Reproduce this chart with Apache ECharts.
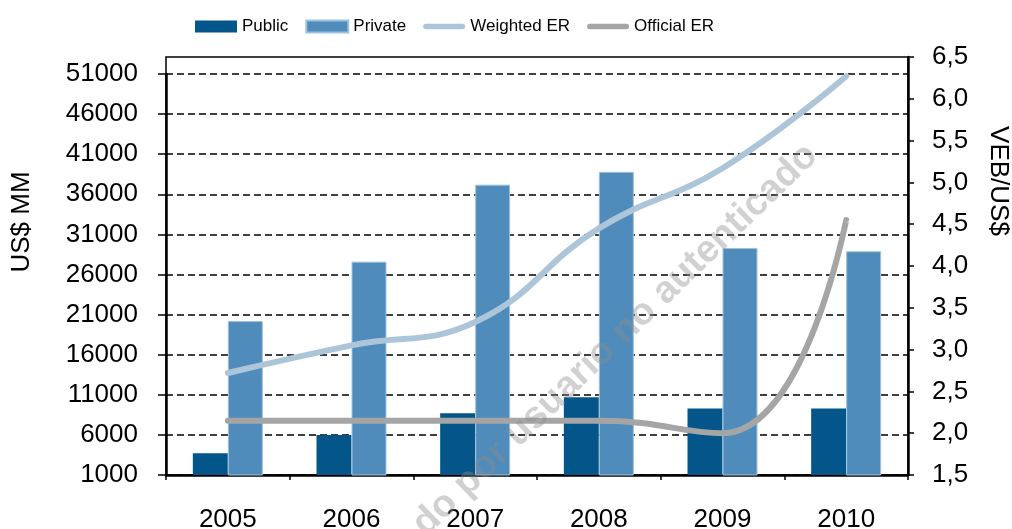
<!DOCTYPE html>
<html>
<head>
<meta charset="utf-8">
<script src="https://cdn.jsdelivr.net/npm/echarts@6/dist/echarts.min.js"></script>
<style>
html,body{margin:0;padding:0;background:#fff;}
#chart{width:1012px;height:529px;}
</style>
</head>
<body>
<div id="chart"></div>
<script>
// ---- data ----
const years = ['2005', '2006', '2007', '2008', '2009', '2010'];
const publicDebt = [3700, 6000, 8700, 10700, 9300, 9300];
const privateDebt = [20200, 27600, 37200, 38800, 29300, 28900];
const weightedER = [2.72, 3.05, 3.33, 4.45, 5.17, 6.27];
const officialER = [2.15, 2.15, 2.15, 2.15, 2.0, 4.55];
const leftTicks = { min: 1000, max: 51000, step: 5000 };
const rightTicks = { min: 1.5, max: 6.5, step: 0.5 };
const seriesNames = ['Public', 'Private', 'Weighted ER', 'Official ER'];
const leftAxisName = 'US$ MM';
const rightAxisName = 'VEB/US$';
const watermark = 'do por usuario no autenticado';

const FONT = "'Liberation Sans', Arial, sans-serif";
const lineIcon = 'path://M3,0 L43,0 A3,3 0 0 1 43,6 L3,6 A3,3 0 0 1 3,0 Z';

const chart = echarts.init(document.getElementById('chart'), null, { renderer: 'canvas' });
chart.setOption({
  animation: false,
  backgroundColor: '#fff',
  textStyle: { fontFamily: FONT, color: '#000' },
  legend: {
    left: 190, top: 13,
    itemWidth: 42, itemHeight: 12, itemGap: 17,
    textStyle: { fontSize: 17, color: '#000', fontFamily: FONT },
    data: [
      { name: seriesNames[0], icon: 'rect' },
      { name: seriesNames[1], icon: 'rect' },
      { name: seriesNames[2], icon: lineIcon },
      { name: seriesNames[3], icon: lineIcon }
    ]
  },
  grid: [
    { left: 166, right: 104, top: 74, bottom: 54, outerBoundsMode: 'none', containLabel: false },
    { left: 166, right: 104, top: 57, bottom: 54, outerBoundsMode: 'none', containLabel: false,
      show: true, borderColor: '#000', borderWidth: 1.5, backgroundColor: 'transparent' }
  ],
  xAxis: [
    {
      gridIndex: 0, type: 'category', data: years,
      axisLine: { lineStyle: { color: '#000', width: 2.5 } },
      axisTick: { show: true, length: 5, lineStyle: { color: '#000', width: 1.5 } },
      axisLabel: { fontSize: 26, color: '#000', margin: 32, fontFamily: FONT }
    },
    { gridIndex: 1, type: 'category', data: years, show: false }
  ],
  yAxis: [
    {
      gridIndex: 0, type: 'value', min: leftTicks.min, max: leftTicks.max, interval: leftTicks.step,
      axisLine: { show: true, lineStyle: { color: '#000', width: 2.5 } },
      axisTick: { show: true, length: 8, lineStyle: { color: '#000', width: 1.5 } },
      axisLabel: { fontSize: 26, color: '#000', margin: 28, fontFamily: FONT,
        formatter: v => String(v) },
      splitLine: { show: true, lineStyle: { color: '#000', width: 1.5, type: [7, 4] } }
    },
    {
      gridIndex: 1, type: 'value', position: 'right', min: rightTicks.min, max: rightTicks.max, interval: rightTicks.step,
      axisLine: { show: true, lineStyle: { color: '#000', width: 2.5 } },
      axisTick: { show: true, length: 6, lineStyle: { color: '#000', width: 1.5 } },
      axisLabel: { fontSize: 26, color: '#000', margin: 24, fontFamily: FONT,
        formatter: v => v.toFixed(1).replace('.', ',') },
      splitLine: { show: false }
    }
  ],
  series: [
    { name: seriesNames[0], type: 'bar', xAxisIndex: 0, yAxisIndex: 0, data: publicDebt,
      barWidth: 35, barGap: '0%', itemStyle: { color: '#03558A' } },
    { name: seriesNames[1], type: 'bar', xAxisIndex: 0, yAxisIndex: 0, data: privateDebt,
      barWidth: 35, barGap: '0%', itemStyle: { color: '#4F8CBB', borderColor: '#9fc2dd', borderWidth: 1 } },
    { name: seriesNames[2], type: 'line', xAxisIndex: 1, yAxisIndex: 1, data: weightedER,
      smooth: 0.45, showSymbol: false, symbol: 'none', color: '#ADC5D8',
      lineStyle: { width: 6, color: '#ADC5D8', cap: 'round', join: 'round' } },
    { name: seriesNames[3], type: 'line', xAxisIndex: 1, yAxisIndex: 1, data: officialER,
      smooth: 0.5, showSymbol: false, symbol: 'none', color: '#A5A5A5',
      lineStyle: { width: 6, color: '#A5A5A5', cap: 'round', join: 'round' } }
  ],
  graphic: [
    { type: 'text', x: 22, y: 222, rotation: Math.PI / 2,
      style: { text: leftAxisName, fontSize: 26, fontFamily: FONT, fill: '#000', align: 'center', verticalAlign: 'middle' } },
    { type: 'text', x: 998, y: 181, rotation: -Math.PI / 2,
      style: { text: rightAxisName, fontSize: 26, fontFamily: FONT, fill: '#000', align: 'center', verticalAlign: 'middle' } },
    { type: 'text', x: 812, y: 150, rotation: 44 * Math.PI / 180, z: 100,
      style: { text: watermark, fontSize: 38, fontWeight: 'bold', fontFamily: FONT, fill: 'rgba(140,140,140,0.4)', align: 'right', verticalAlign: 'middle' } }
  ]
});
</script>
</body>
</html>
